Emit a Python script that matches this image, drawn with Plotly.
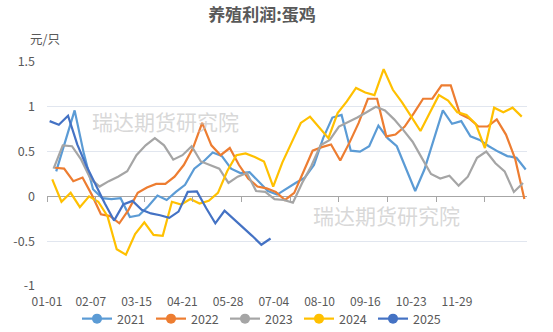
import pandas as pd
import plotly.graph_objects as go

# Weekly layer-hen breeding profit (元/只), one series per year, sampled on Fridays
first_friday = {
    "2021": "2021-01-08",
    "2022": "2022-01-07",
    "2023": "2023-01-06",
    "2024": "2024-01-05",
    "2025": "2025-01-03",
}

profit_2021 = [0.28, 0.62, 0.96, 0.48, 0.08, -0.02, -0.03, -0.02, -0.23, -0.21,
               -0.11, 0.01, -0.04, 0.05, 0.13, 0.31, 0.39, 0.49, 0.45, 0.31,
               0.26, 0.27, 0.16, 0.06, 0.02, 0.09, 0.15, 0.21, 0.35, 0.65,
               0.88, 0.91, 0.51, 0.50, 0.56, 0.79, 0.65, 0.56, 0.31, 0.06,
               0.30, 0.63, 0.96, 0.81, 0.84, 0.67, 0.63, 0.56, 0.50, 0.45,
               0.43, 0.30]
profit_2022 = [0.32, 0.31, 0.17, 0.21, 0.02, -0.20, -0.22, -0.30, -0.15, 0.04,
               0.10, 0.14, 0.14, 0.22, 0.35, 0.54, 0.82, 0.57, 0.46, 0.54,
               0.35, 0.20, 0.11, 0.09, 0.05, -0.04, 0.04, 0.28, 0.51, 0.55,
               0.58, 0.40, 0.60, 0.82, 1.09, 1.09, 0.67, 0.69, 0.78, 0.93,
               1.09, 1.09, 1.24, 1.24, 0.92, 0.87, 0.78, 0.78, 0.86, 0.69,
               0.42, -0.03]
profit_2023 = [0.31, 0.57, 0.56, 0.41, 0.20, 0.11, 0.17, 0.22, 0.28, 0.46,
               0.57, 0.65, 0.57, 0.41, 0.46, 0.56, 0.39, 0.35, 0.31, 0.15,
               0.22, 0.26, 0.06, 0.05, -0.03, -0.04, -0.07, 0.15, 0.34, 0.57,
               0.63, 0.78, 0.83, 0.88, 0.94, 1.00, 0.96, 0.86, 0.74, 0.61,
               0.43, 0.25, 0.20, 0.23, 0.12, 0.22, 0.43, 0.50, 0.37, 0.28,
               0.05, 0.15]
profit_2024 = [0.19, -0.06, 0.04, -0.12, 0.00, -0.06, -0.22, -0.59, -0.65, -0.42,
               -0.29, -0.43, -0.44, -0.06, -0.09, -0.03, -0.08, -0.05, 0.04, 0.28,
               0.46, 0.48, 0.44, 0.39, 0.11, 0.38, 0.60, 0.82, 0.89, 0.77,
               0.65, 0.93, 1.06, 1.21, 1.16, 1.13, 1.42, 1.19, 1.05, 0.89,
               0.73, 0.93, 1.13, 1.07, 0.94, 0.91, 0.81, 0.54, 0.99, 0.94,
               0.99, 0.89]
profit_2025 = [0.84, 0.80, 0.90, 0.58, 0.34, 0.13, -0.08, -0.27, -0.09, -0.05,
               -0.15, -0.19, -0.21, -0.24, -0.17, 0.05, 0.055, -0.13, -0.30, -0.16,
               -0.25, -0.34, -0.44, -0.54, -0.47]

series = {
    "2021": profit_2021,
    "2022": profit_2022,
    "2023": profit_2023,
    "2024": profit_2024,
    "2025": profit_2025,
}
colors = {
    "2021": "#5B9BD5",
    "2022": "#ED7D31",
    "2023": "#A5A5A5",
    "2024": "#FFC000",
    "2025": "#4472C4",
}

tick_labels = ["01-01", "02-07", "03-15", "04-21", "05-28",
               "07-04", "08-10", "09-16", "10-23", "11-29"]

y_ticks = [1.5, 1, 0.5, 0, -0.5, -1]
y_tick_text = ["1.5", "1", "0.5", "0", "-0.5", "-1"]

FONT = "Noto Sans CJK SC"
GREY_TEXT = "#595959"

fig = go.Figure()

for year, values in series.items():
    dates = pd.date_range(first_friday[year], periods=len(values), freq="7D")
    day_of_year = [(d - pd.Timestamp(d.year, 1, 1)).days for d in dates]
    fig.add_trace(go.Scatter(
        x=day_of_year, y=values, mode="lines", name=year,
        line=dict(color=colors[year], width=2.2),
        showlegend=False, hoverinfo="skip",
    ))

# legend entries drawn as line + round marker
for year in series:
    fig.add_trace(go.Scatter(
        x=[None], y=[None], mode="lines+markers", name=year,
        line=dict(color=colors[year], width=2.2),
        marker=dict(color=colors[year], size=10, symbol="circle"),
        showlegend=True,
    ))

# label centres step a little over a month across the year; tick marks every 37 days
label_pos = [max(0.0, -1.5 + 34.8 * k) for k in range(len(tick_labels))]
tick_mark_pos = [37 * k for k in range(len(tick_labels))]

fig.update_layout(
    width=553, height=332,
    margin=dict(l=47, r=26, t=62, b=46, autoexpand=False),
    paper_bgcolor="white", plot_bgcolor="white",
    font=dict(family=FONT, size=12, color=GREY_TEXT),
    title=dict(
        text="养殖利润:蛋鸡", x=262 / 553, xref="container", xanchor="center",
        y=1 - 15 / 332, yref="container", yanchor="middle",
        font=dict(family=FONT, size=17, color=GREY_TEXT, weight="bold"),
    ),
    xaxis=dict(
        range=[0, 365], tickmode="array", tickvals=label_pos, ticktext=tick_labels,
        showgrid=False, zeroline=False, showline=False, ticks="",
        tickfont=dict(family=FONT, size=12, color=GREY_TEXT),
        ticklabelstandoff=7, automargin=False,
    ),
    xaxis2=dict(
        overlaying="x", matches="x", anchor="free", position=0.4,
        range=[0, 365], tickmode="array", tickvals=tick_mark_pos,
        showticklabels=False, ticks="outside", ticklen=5, tickcolor="#A6A6A6",
        tickwidth=1, showgrid=False, zeroline=False, showline=False,
        automargin=False,
    ),
    yaxis=dict(
        range=[-1, 1.5], tickmode="array", tickvals=y_ticks, ticktext=y_tick_text,
        showgrid=True, gridcolor="#E1E6EF", gridwidth=1,
        zeroline=True, zerolinecolor="#A6A6A6", zerolinewidth=1.4,
        showline=False, ticks="", ticklabelstandoff=11, automargin=False,
        tickfont=dict(family=FONT, size=12.5, color=GREY_TEXT),
    ),
    legend=dict(
        orientation="h", x=262 / 553, xref="container", xanchor="center",
        y=1 - 319 / 332, yref="container", yanchor="middle",
        font=dict(family=FONT, size=12.5, color=GREY_TEXT),
        entrywidth=29, entrywidthmode="pixels", bgcolor="rgba(0,0,0,0)",
        itemclick=False,
    ),
    annotations=[
        dict(text="元/只", xref="paper", yref="paper", x=-0.04, y=1.107,
             xanchor="left", yanchor="middle", showarrow=False,
             font=dict(family=FONT, size=12.5, color=GREY_TEXT)),
        dict(text="瑞达期货研究院", xref="paper", yref="paper",
             x=(165 - 47) / 480, y=(286 - 121) / 224,
             xanchor="center", yanchor="middle", showarrow=False,
             font=dict(family=FONT, size=21, color="rgba(190,190,190,0.6)")),
        dict(text="瑞达期货研究院", xref="paper", yref="paper",
             x=(386 - 47) / 480, y=(286 - 215) / 224,
             xanchor="center", yanchor="middle", showarrow=False,
             font=dict(family=FONT, size=21, color="rgba(190,190,190,0.6)")),
    ],
)

# an empty trace on the tick-mark axis so it is drawn along the zero line
fig.add_trace(go.Scatter(x=[None], y=[None], xaxis="x2", showlegend=False,
                         hoverinfo="skip"))

fig.write_html("out.html")
